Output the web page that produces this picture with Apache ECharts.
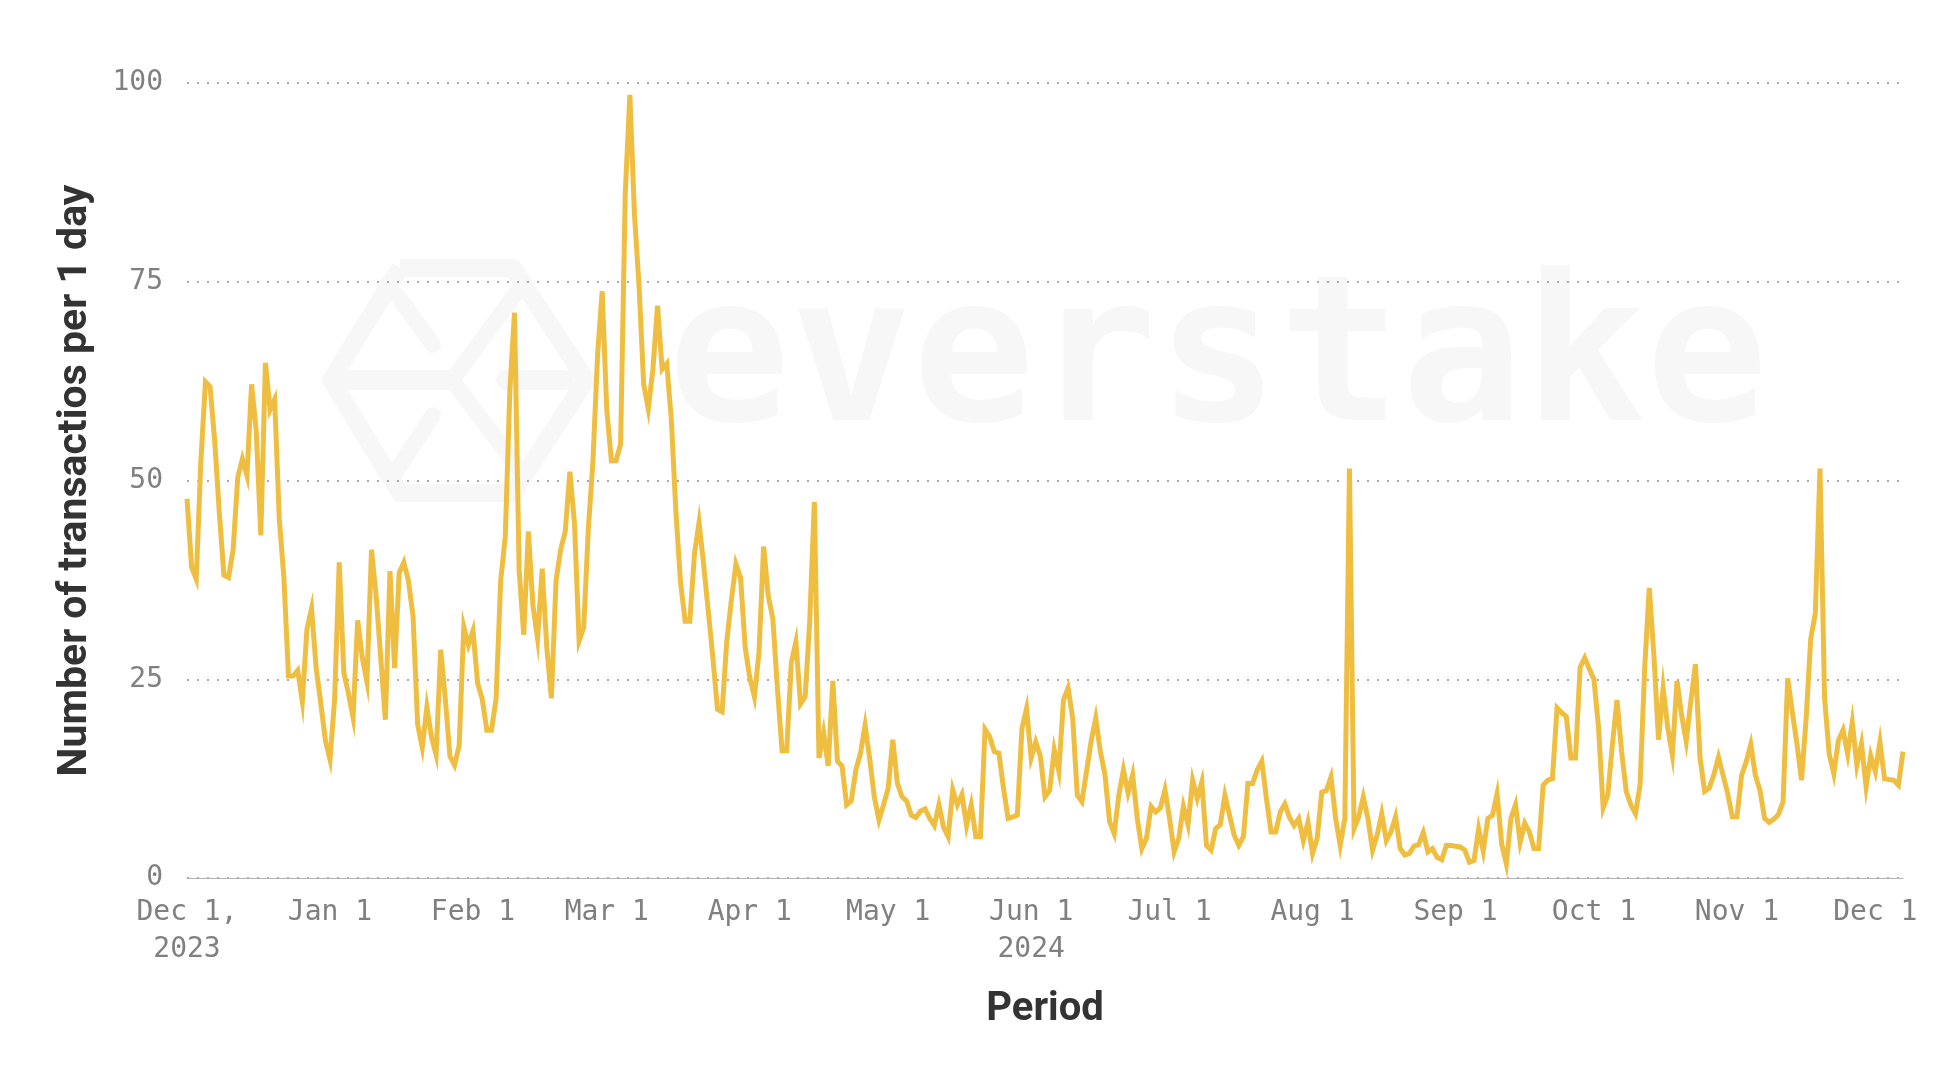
<!DOCTYPE html>
<html><head><meta charset="utf-8">
<script src="https://cdn.jsdelivr.net/npm/echarts@6/dist/echarts.min.js"></script>
<style>html,body{margin:0;padding:0;background:#fff}#c{width:1952px;height:1077px}</style>
</head><body><div id="c"></div>
<script>
// Daily transaction counts, Dec 1 2023 .. Dec 7 2024
const dec2023 = [47.7,39.1,37.6,52.4,62.4,61.8,55,46,38.1,37.8,41.3,50.4,52.7,50.6,62.1,56.3,43.1,64.8,58.9,60.2,45.2,37.8,25.4,25.4,26.1,22.2,31.3,33.9,26.4,22,17.3];
const jan2024 = [14.9,22.5,39.7,25.8,23.2,20.2,32.4,27.7,24.7,41.3,35.5,27.7,19.9,38.6,26.4,38.4,39.7,37.4,32.9,19.3,16.4,21.5,17.7,15.5,28.7,22.5,15.3,14.2,16.7,31.6,29.3];
const feb2024 = [31.1,24.5,22.5,18.6,18.6,22.5,37.4,43,61.5,71.1,38.7,30.6,43.6,34.2,30.1,38.9,29,22.6,37.4,41.3,43.6,51.1,44.6,29.8,31.5,43.9,52.4,65.7,73.8];
const mar2024 = [58.9,52.5,52.5,54.6,86,98.5,83.5,74.4,62.1,59,64,72,64,64.7,57.6,45.9,37.1,32.3,32.3,40.7,44.7,39.4,33.6,27.7,21.2,20.9,29.7,34.9,39.5,37.8,29];
const apr2024 = [25.2,22.8,28.4,41.7,35.5,32.6,23.8,16,16,27.1,29.7,21.9,22.8,32.3,47.3,15.1,18.3,14.1,24.8,14.7,14.1,9.2,9.7,13.6,15.7,19.2,15,10.2,7.3,9.2];
const may2024 = [11.3,17.4,11.9,10.2,9.7,7.9,7.6,8.4,8.7,7.5,6.6,9.2,6.4,5.2,11.1,9.2,10.5,6.6,9.2,5.2,5.2,18.7,17.8,15.9,15.7,11.3,7.5,7.7,7.9,18.8,21.3];
const jun2024 = [15.1,17.1,15.3,10.2,11,16.1,13.4,22.4,23.9,20.1,10.4,9.6,13.4,17.2,20.1,15.9,13,7.1,5.6,10.4,13.6,10.7,13,7.5,3.7,5,9,8.3,8.8,11.1];
const jul2024 = [7.5,3.3,5,9,6.7,12.3,10,12.1,4.1,3.5,6.2,6.7,10.4,7.9,5.4,4.1,5.2,11.9,11.9,13.6,14.7,10,5.8,5.8,8.3,9.3,7.6,6.6,7.5,4.7,7];
const aug2024 = [3.1,5,10.8,11,12.7,7.5,4.1,7.5,51.5,6.2,7.7,10.2,7.5,3.5,5.4,8.1,4.7,5.8,7.7,3.7,2.9,3.1,4,4.2,5.7,3.3,3.7,2.6,2.3,4.1,4.1];
const sep2024 = [4,3.9,3.5,2,2.2,6.2,3.4,7.5,7.9,10.6,4.3,1.8,7.5,9.2,4.5,6.9,5.8,3.7,3.7,11.7,12.3,12.5,21.4,20.8,20.3,15.1,15.1,26.5,27.7,26.3];
const oct2024 = [25,18.9,8.8,10.4,16.8,22.4,15.9,10.9,9.2,8.1,11.7,26.4,36.5,28,17.4,23.9,18.9,15.5,24.8,20.5,17.2,22.2,26.9,15.1,10.9,11.3,13,15.2,12.9,10.6,7.7];
const nov2024 = [7.7,12.9,14.6,16.8,12.9,11,7.5,7,7.4,8,9.6,25.1,20.9,16.9,12.3,20.1,30.1,33.3,51.5,22.6,15.6,13.1,17.3,18.6,15.6,19.6,14.2,16.9,11.5,15.4];
const dec2024 = [13.4,17.1,12.5,12.4,12.3,11.7,15.9];

const values = [].concat(dec2023,jan2024,feb2024,mar2024,apr2024,may2024,jun2024,jul2024,aug2024,sep2024,oct2024,nov2024,dec2024);

const monthNames = ['Jan','Feb','Mar','Apr','May','Jun','Jul','Aug','Sep','Oct','Nov','Dec'];
const tickLabels = {'2023-12':'Dec 1,\n2023','2024-06':'Jun 1\n2024'};
const startDate = Date.UTC(2023, 11, 1);
const dates = values.map((_, i) => {
  const d = new Date(startDate + i * 86400000);
  const m = d.getUTCMonth() + 1, dd = d.getUTCDate();
  return d.getUTCFullYear() + '-' + String(m).padStart(2,'0') + '-' + String(dd).padStart(2,'0');
});

const yTicks = [0, 25, 50, 75, 100];
const yName = 'Number of transactios per 1 day';
const xName = 'Period';

const chart = echarts.init(document.getElementById('c'), null, {renderer:'canvas'});
const wm = '#f7f7f7';
chart.setOption({
  animation: false,
  backgroundColor: '#ffffff',
  grid: {left: 187, right: 49, top: 83, bottom: 199},
  graphic: [
    {type:'text', z:-10, left: 668, top: 266, style:{text:'everstake', fill: wm, font:'bold 203px "DejaVu Sans Mono"'}},
    {type:'polyline', z:-10, shape:{points:[[400,268],[513,268],[586,380],[513,493],[400,493],[331,380],[400,268]]}, style:{stroke: wm, lineWidth: 18, fill:null, lineJoin:'round'}},
    {type:'line', z:-10, shape:{x1:397,y1:295,x2:433,y2:345}, style:{stroke: wm, lineWidth: 16, lineCap:'round'}},
    {type:'line', z:-10, shape:{x1:433,y1:415,x2:397,y2:470}, style:{stroke: wm, lineWidth: 16, lineCap:'round'}},
    {type:'polyline', z:-10, shape:{points:[[522,285],[452,380],[522,473]]}, style:{stroke: wm, lineWidth: 16, fill:null, lineCap:'round', lineJoin:'round'}},
    {type:'line', z:-10, shape:{x1:350,y1:380,x2:450,y2:380}, style:{stroke: wm, lineWidth: 20, lineCap:'round'}},
    {type:'line', z:-10, shape:{x1:506,y1:380,x2:564,y2:380}, style:{stroke: wm, lineWidth: 20, lineCap:'round'}}
  ],
  xAxis: {
    type: 'category',
    data: dates,
    boundaryGap: false,
    name: xName,
    nameLocation: 'middle',
    nameGap: 112,
    nameTextStyle: {fontFamily:'Roboto', fontWeight:'bold', fontSize: 40, color:'#333333'},
    axisLine: {show: true, lineStyle: {color:'#b5b5b5', width: 1}},
    axisTick: {show: false},
    splitLine: {show: false},
    axisLabel: {
      interval: (idx, val) => val.slice(8) === '01',
      formatter: (val) => {
        const key = val.slice(0,7);
        if (tickLabels[key]) return tickLabels[key];
        return monthNames[parseInt(val.slice(5,7),10)-1] + ' 1';
      },
      fontFamily: 'DejaVu Sans Mono', fontSize: 28, color: '#808080', lineHeight: 37, margin: 16
    }
  },
  yAxis: {
    type: 'value',
    min: yTicks[0], max: yTicks[yTicks.length-1], interval: 25,
    name: yName,
    nameLocation: 'middle',
    nameGap: 91,
    nameTextStyle: {fontFamily:'Roboto', fontWeight:'bold', fontSize: 41, color:'#333333'},
    axisLine: {show:false},
    axisTick: {show:false},
    axisLabel: {fontFamily:'DejaVu Sans Mono', fontSize: 28, color:'#808080', margin: 24},
    splitLine: {show:true, lineStyle:{color:'#aaaaaa', width:2, type:[2,8]}}
  },
  series: [{
    type: 'line',
    data: values,
    showSymbol: false,
    symbol: 'none',
    lineStyle: {color:'#efbe40', width: 5, join:'miter'},
    itemStyle: {color:'#efbe40'}
  }]
});
</script></body></html>
